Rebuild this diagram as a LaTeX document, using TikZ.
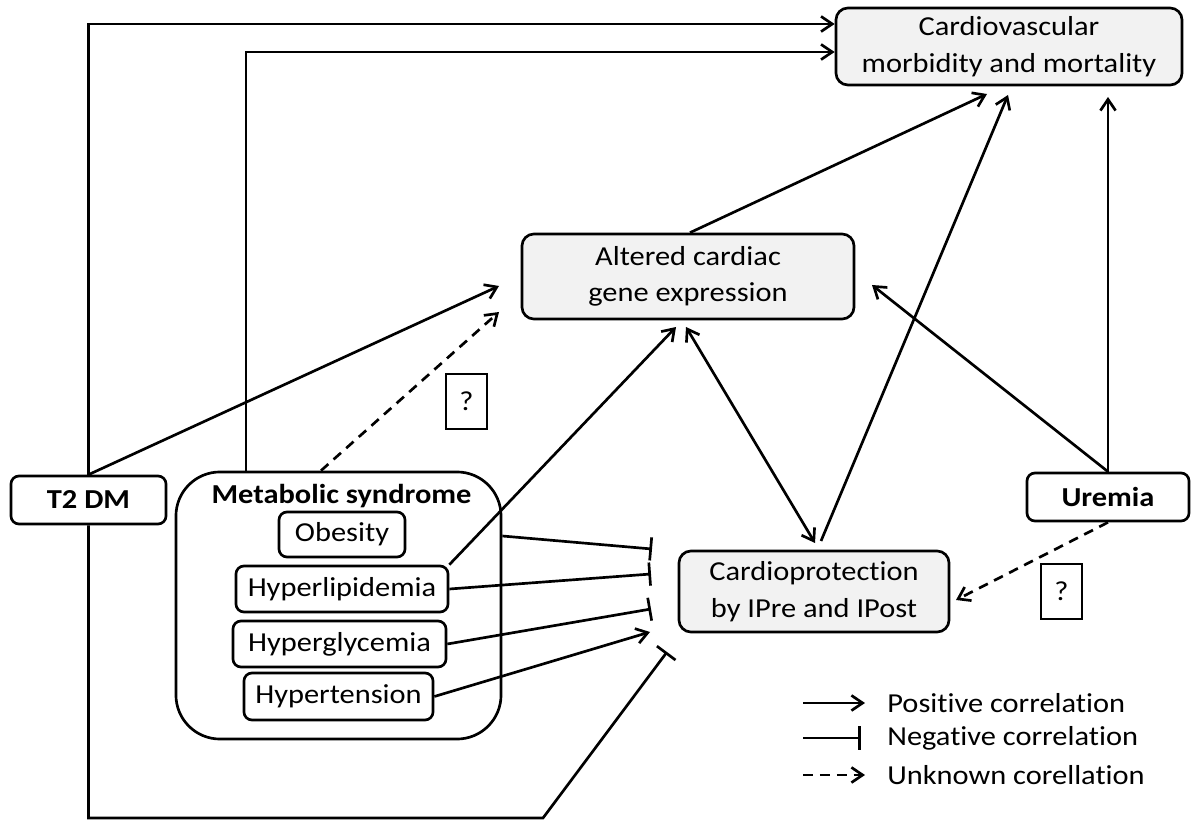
\documentclass[tikz,border=0pt]{standalone}
\usepackage{fontspec}
\setmainfont{Carlito}[FakeStretch=1.11, Ligatures=NoCommon]
\usetikzlibrary{arrows.meta, calc}
\definecolor{boxgray}{HTML}{F2F2F2}
\newcommand\fs{\fontsize{19.5}{26}\selectfont}

\begin{document}
\begin{tikzpicture}[x=0.025cm, y=-0.025cm, line width=1.9pt,
  every node/.style={font=\fs, inner sep=0pt, align=center},
  g/.style={draw, fill=boxgray, rounded corners=3mm},
  w/.style={draw, rounded corners=2mm},
  q/.style={draw, minimum width=1.025cm, minimum height=1.375cm},
  pa/.style={-{Straight Barb[length=2.8mm,width=3.8mm]}},
  ba/.style={{Straight Barb[length=2.8mm,width=3.8mm]}-{Straight Barb[length=2.8mm,width=3.8mm]}},
  na/.style={-{Bar[width=5.8mm]}},
  ua/.style={pa, dash pattern=on 7pt off 5pt}]
  \useasboundingbox (0,0) rectangle (1192,820);
  % boxes
  \node[g, minimum width=8.65cm, minimum height=1.925cm] (cvd) at (1009,46.5) {Cardiovascular\\morbidity and mortality};
  \node[g, minimum width=8.3cm, minimum height=2.125cm] (gene) at (688,276.5) {Altered cardiac\\gene expression};
  \node[g, minimum width=6.75cm, minimum height=2.025cm] (cardio) at (814,591.5) {Cardioprotection\\by IPre and IPost};
  \node[w, minimum width=3.875cm, minimum height=1.2cm, font=\fs\bfseries] (t2dm) at (88.5,500) {T2 DM};
  \node[w, minimum width=4.05cm, minimum height=1.2cm, font=\fs\bfseries] (urem) at (1108,497) {Uremia};
  \node[draw, rounded corners=1.1cm, minimum width=8.125cm, minimum height=6.675cm] (ms) at (338.5,605.5) {};
  \node[font=\fs\bfseries] (mstitle) at (341.5,496) {Metabolic syndrome};
  \node[w, minimum width=3.15cm, minimum height=1.125cm] (obes) at (342,534.5) {Obesity};
  \node[w, minimum width=5.3cm, minimum height=1.15cm] (lipid) at (342,589) {Hyperlipidemia};
  \node[w, minimum width=5.325cm, minimum height=1.15cm] (glyc) at (339.5,644) {Hyperglycemia};
  \node[w, minimum width=4.725cm, minimum height=1.175cm] (tens) at (338.5,696.5) {Hypertension};
  \node[q] (q1) at (466.5,401.5) {?};
  \node[q] (q2) at (1061.5,591.5) {?};
  % legend
  \node[anchor=west] (lpos) at (886,703) {Positive correlation};
  \node[anchor=west] (lneg) at (886,738) {Negative correlation};
  \node[anchor=west] (lunk) at (886,775) {Unknown corellation};
  \coordinate (l1) at (803,703);
  \coordinate (l2) at (803,738);
  \coordinate (l3) at (803,775);
  % arrow ends
  \coordinate (tA) at (499,286);
  \coordinate (tB) at (499,312);
  \coordinate (tC) at (676,327);
  \coordinate (tD) at (686,327);
  \coordinate (tE) at (815,543);
  \coordinate (tF) at (987,94);
  \coordinate (tG) at (1008,95);
  \coordinate (cs) at (821,541);
  \coordinate (tH) at (872,285);
  \coordinate (tI) at (956,600);
  \coordinate (tJ) at (1108,97);
  \coordinate (bO) at (652,549);
  \coordinate (bL) at (651,574);
  \coordinate (bG) at (651,609);
  \coordinate (bT) at (650,632);
  \coordinate (bK) at (543,818);
  \coordinate (bD) at (667,652);

  \draw[pa] (t2dm.north) |- (cvd.west |- 0,24);
  \draw[pa] (246,0 |- ms.north) |- (cvd.west |- 0,52);
  \draw[pa] (t2dm.north) -- (tA);
  \draw[ua] (321,0 |- ms.north) -- (tB);
  \draw[pa] (lipid.north east) -- (tC);
  \draw[ba] (tD) -- (tE);
  \draw[pa] (690,0 |- gene.north) -- (tF);
  \draw[pa] (cs) -- (tG);
  \draw[pa] (urem.north) -- (tH);
  \draw[pa] (urem.north) -- (tJ);
  \draw[ua] (urem.south) -- (tI);
  \draw[na] (ms.east |- 0,536) -- (bO);
  \draw[na] (lipid.east) -- (bL);
  \draw[na] (glyc.east) -- (bG);
  \draw[pa] (tens.east) -- (bT);
  \draw[na] (t2dm.south) |- (bK) -- (bD);

  \draw[pa, shorten >=5.25mm] (l1) -- (lpos.west);
  \draw[na, shorten >=6.25mm] (l2) -- (lneg.west);
  \draw[ua, shorten >=5.25mm] (l3) -- (lunk.west);
\end{tikzpicture}
\end{document}
